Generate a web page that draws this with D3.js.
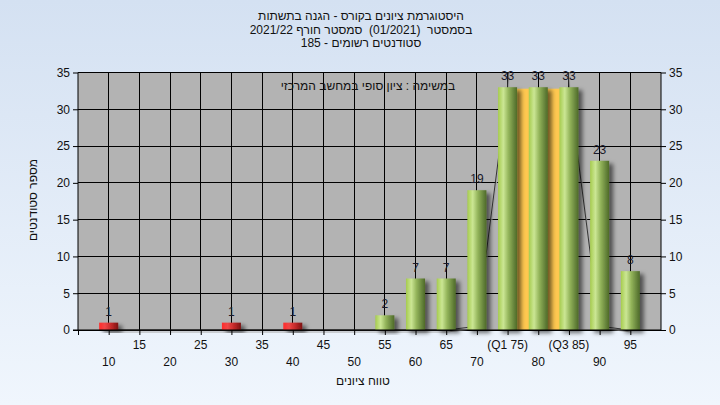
<!DOCTYPE html>
<html><head><meta charset="utf-8">
<script src="https://cdn.jsdelivr.net/npm/d3@7"></script>
<style>html,body{margin:0;padding:0;overflow:hidden}svg{display:block}text{font-family:"Liberation Sans",Arial,sans-serif;white-space:pre}</style>
</head><body>
<script>
const categories = [10,15,20,25,30,35,40,45,50,55,60,65,70,75,80,85,90,95];
const counts     = [1,0,0,0,1,0,1,0,0,2,7,7,19,33,33,33,23,8];
const tickLabels = ["10","15","20","25","30","35","40","45","50","55","60","65","70","(Q1 75)","80","(Q3 85)","90","95"];
const passMark = 55;
const quartileRange = [75, 85];
const quartileBandHeight = 32.8;
const yTicks = [0,5,10,15,20,25,30,35];
// fitted-curve points (category, value); the peak runs off the top
const curvePoints = [[10,0],[65,0],[70,0.5],[75,33],[80,132],[85,33],[90,0.5],[95,0]];
const titleLines = ["היסטוגרמת ציונים בקורס - הגנה בתשתות","בסמסטר  (01/2021)  סמסטר חורף 2021/22","סטודנטים רשומים - 185"];
const noteText = "במשימה : ציון סופי במחשב המרכזי";
const yTitle = "מספר סטודנטים";
const xTitle = "טווח ציונים";

const W=720,H=405;
const svg=d3.select("body").append("svg").attr("width",W).attr("height",H);
const defs=svg.append("defs");
const bg=defs.append("linearGradient").attr("id","bg").attr("x1",0).attr("y1",0).attr("x2",0).attr("y2",1);
bg.append("stop").attr("offset","0%").attr("stop-color","#d4e1f2");
bg.append("stop").attr("offset","100%").attr("stop-color","#f0f6fd");
const gG=defs.append("linearGradient").attr("id","gG");
[["0%","#a6cc4e"],["28%","#cbe694"],["55%","#93b45a"],["85%","#64823a"],["100%","#4e6a28"]].forEach(s=>gG.append("stop").attr("offset",s[0]).attr("stop-color",s[1]));
const gR=defs.append("linearGradient").attr("id","gR");
[["0%","#ff2b2b"],["30%","#f04646"],["65%","#c02828"],["100%","#7c1414"]].forEach(s=>gR.append("stop").attr("offset",s[0]).attr("stop-color",s[1]));
const f=defs.append("filter").attr("id","sh").attr("x","-30%").attr("y","-20%").attr("width","180%").attr("height","150%");
f.append("feDropShadow").attr("dx",4).attr("dy",3).attr("stdDeviation",2).attr("flood-color","#000").attr("flood-opacity",0.55);
defs.append("clipPath").attr("id","clip").append("rect").attr("x",78).attr("y",72).attr("width",583).attr("height",262);

svg.append("rect").attr("width",W).attr("height",H).attr("fill","url(#bg)");

const x=d3.scaleLinear().domain([5,100]).range([78,661]);
const y=d3.scaleLinear().domain([0,35]).range([330,72.5]);
const step=x(10)-x(5);
const bw=step*0.62;

svg.append("rect").attr("x",x(5)).attr("y",y(35)).attr("width",x(100)-x(5)).attr("height",y(0)-y(35)).attr("fill","#b3b3b3");

// grid
const grid=svg.append("g").attr("stroke","#000").attr("stroke-width",1).attr("shape-rendering","crispEdges");
grid.selectAll(".h").data(yTicks).join("line").attr("x1",x(5)).attr("x2",x(100)).attr("y1",d=>y(d)).attr("y2",d=>y(d));
grid.selectAll(".v").data(categories).join("line").attr("x1",d=>x(d)).attr("x2",d=>x(d)).attr("y1",y(0)).attr("y2",y(35));

// note
svg.append("text").attr("x",368).attr("y",90).attr("text-anchor","middle").attr("direction","rtl")
  .attr("font-size",12).attr("fill","#111").text(noteText);

// curve
const line=d3.line().x(d=>x(d[0])).y(d=>y(d[1]));
const cg=svg.append("g").attr("clip-path","url(#clip)");
cg.append("path").datum(curvePoints).attr("d",line).attr("fill","none").attr("stroke","#a8a8a8").attr("stroke-width",1).attr("transform","translate(1,2)");
cg.append("path").datum(curvePoints).attr("d",line).attr("fill","none").attr("stroke","#333").attr("stroke-width",1);

// quartile band
svg.append("rect").attr("x",x(quartileRange[0])).attr("width",x(quartileRange[1])-x(quartileRange[0]))
  .attr("y",y(quartileBandHeight)).attr("height",y(0)-y(quartileBandHeight)).attr("fill","#ffc850");

// bars
const data=categories.map((c,i)=>({c,v:counts[i]})).filter(d=>d.v>0);
svg.append("g").selectAll("rect").data(data).join("rect")
  .attr("x",d=>x(d.c)-bw/2).attr("width",bw).attr("y",d=>y(d.v)).attr("height",d=>y(0)-y(d.v))
  .attr("fill",d=>d.c<passMark?"url(#gR)":"url(#gG)").attr("filter","url(#sh)");
svg.append("g").selectAll("text").data(data).join("text")
  .attr("x",d=>x(d.c)).attr("y",d=>y(d.v)-7).attr("text-anchor","middle").attr("font-size",12)
  .attr("fill","#1a1a2a").text(d=>d.v);

// axes
const yl=svg.append("g").attr("transform",`translate(${x(5)},0)`).call(d3.axisLeft(y).tickValues(yTicks).tickSize(5).tickPadding(3));
const yr=svg.append("g").attr("transform",`translate(${x(100)},0)`).call(d3.axisRight(y).tickValues(yTicks).tickSize(5).tickPadding(3));
[yl,yr].forEach(a=>{a.select(".domain").attr("stroke","#000").attr("d",`M0,${y(35)}V${y(0)}`);a.selectAll("line").attr("stroke","#000");
  a.selectAll("text").attr("font-size",12).attr("fill","#111").attr("font-family","Liberation Sans, Arial, sans-serif");});
const xa=svg.append("g").attr("transform",`translate(0,${y(0)})`)
  .call(d3.axisBottom(x).tickValues([5].concat(categories)).tickSize(5).tickFormat(""));
xa.select(".domain").attr("stroke","#000").attr("d",`M${x(5)-5},0H${x(100)}`);
xa.selectAll("line").attr("stroke","#000");
svg.append("g").selectAll("text").data(categories).join("text")
  .attr("x",d=>x(d)).attr("y",(d,i)=>i%2?349:366).attr("text-anchor","middle").attr("font-size",12).attr("fill","#111")
  .text((d,i)=>tickLabels[i]);

// titles
svg.append("g").selectAll("text").data(titleLines).join("text")
  .attr("x",361).attr("y",(d,i)=>20+i*13.5).attr("text-anchor","middle").attr("direction","rtl")
  .attr("font-size",12).attr("fill","#111").text(d=>d);
svg.append("text").attr("transform","translate(37,200) rotate(-90)").attr("text-anchor","middle").attr("direction","rtl")
  .attr("font-size",12).attr("fill","#111").text(yTitle);
svg.append("text").attr("x",363).attr("y",385).attr("text-anchor","middle").attr("direction","rtl")
  .attr("font-size",12).attr("fill","#111").text(xTitle);
</script>
</body></html>
